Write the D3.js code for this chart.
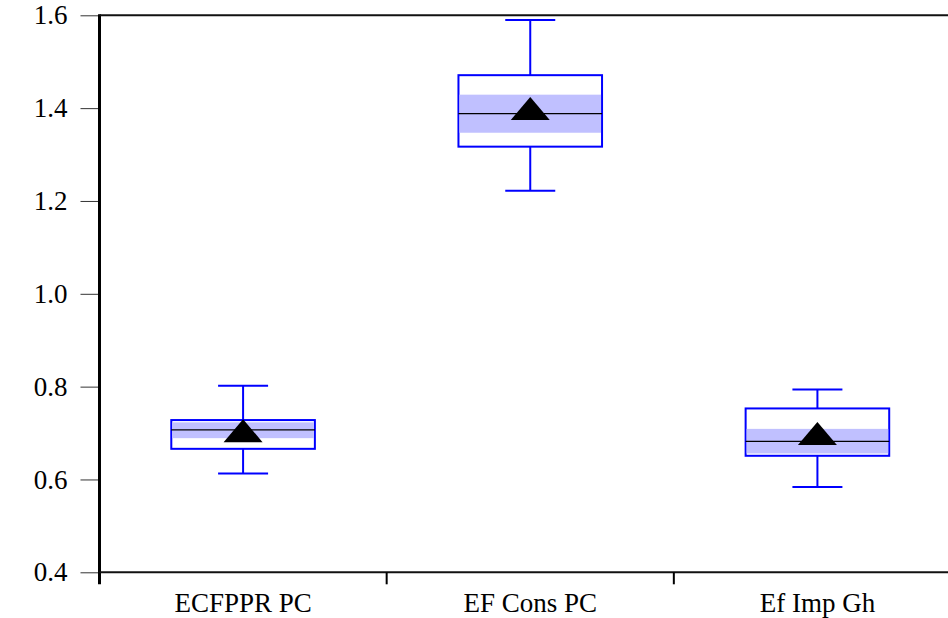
<!DOCTYPE html>
<html>
<head>
<meta charset="utf-8">
<script src="https://cdn.jsdelivr.net/npm/d3@7"></script>
<style>
  html,body{margin:0;padding:0;background:#fff;}
  svg{display:block;}
</style>
</head>
<body>
<svg id="chart" width="948" height="618"></svg>
<script>
const categories=["ECFPPR PC","EF Cons PC","Ef Imp Gh"];
const whiskerLow=[0.613,1.222,0.584];
const q1=[0.666,1.317,0.651];
const median=[0.707,1.388,0.682];
const q3=[0.728,1.471,0.753];
const whiskerHigh=[0.802,1.590,0.794];
const ciLow=[0.689,1.347,0.656];
const ciHigh=[0.723,1.429,0.709];
const means=[0.705,1.399,0.699];
const yTicks=[0.4,0.6,0.8,1.0,1.2,1.4,1.6];

const boxes=categories.map((c,i)=>({cat:c,lo:whiskerLow[i],q1:q1[i],med:median[i],q3:q3[i],hi:whiskerHigh[i],ciLo:ciLow[i],ciHi:ciHigh[i],mean:means[i]}));

const font="'Liberation Serif', 'Times New Roman', serif";
const svg=d3.select("#chart");
const mLeft=99.5,mRight=961,mTop=15.3,mBottom=572.3;

const x=d3.scaleBand().domain(categories).range([mLeft,mRight]).padding(0);
const y=d3.scaleLinear().domain([0.4,1.6]).range([mBottom,mTop]);

// left axis ticks + labels
const yAxis=svg.append("g")
  .attr("transform",`translate(${mLeft},0)`)
  .call(d3.axisLeft(y).tickValues(yTicks).tickFormat(d3.format(".1f")).tickSize(19).tickPadding(13));
yAxis.attr("font-family",null).attr("font-size",null);
yAxis.select(".domain").remove();
yAxis.selectAll(".tick line").attr("stroke","#333").attr("stroke-width",1);
yAxis.selectAll(".tick text").style("font-family",font).style("font-size","27px").attr("fill","#000");

// frame lines
svg.append("line").attr("x1",mLeft).attr("x2",mLeft).attr("y1",mTop-1).attr("y2",mBottom+12)
  .attr("stroke","#000").attr("stroke-width",3);
svg.append("line").attr("x1",mLeft).attr("x2",mRight).attr("y1",mTop).attr("y2",mTop)
  .attr("stroke","#111").attr("stroke-width",2);
svg.append("line").attr("x1",mLeft).attr("x2",mRight).attr("y1",mBottom).attr("y2",mBottom)
  .attr("stroke","#111").attr("stroke-width",2);

// bottom ticks at band edges
const edges=categories.map(c=>x(c)).concat([mRight]);
svg.append("g").selectAll("line").data(edges.slice(1)).join("line")
  .attr("x1",d=>d).attr("x2",d=>d).attr("y1",mBottom).attr("y2",mBottom+12)
  .attr("stroke","#000").attr("stroke-width",2);

svg.append("g").selectAll("text").data(categories).join("text")
  .attr("x",d=>x(d)+x.bandwidth()/2).attr("y",612)
  .attr("text-anchor","middle").attr("fill","#000")
  .style("font-family",font).style("font-size","27px")
  .text(d=>d);

// boxes
const bw=x.bandwidth()*0.5, capW=50;
const g=svg.append("g").selectAll("g").data(boxes).join("g")
  .attr("transform",d=>`translate(${x(d.cat)+x.bandwidth()/2},0)`);

g.append("line").attr("x1",0).attr("x2",0).attr("y1",d=>y(d.hi)).attr("y2",d=>y(d.q3))
  .attr("stroke","#0000ff").attr("stroke-width",2);
g.append("line").attr("x1",0).attr("x2",0).attr("y1",d=>y(d.q1)).attr("y2",d=>y(d.lo))
  .attr("stroke","#0000ff").attr("stroke-width",2);
g.append("line").attr("x1",-capW/2).attr("x2",capW/2).attr("y1",d=>y(d.hi)).attr("y2",d=>y(d.hi))
  .attr("stroke","#0000ff").attr("stroke-width",2);
g.append("line").attr("x1",-capW/2).attr("x2",capW/2).attr("y1",d=>y(d.lo)).attr("y2",d=>y(d.lo))
  .attr("stroke","#0000ff").attr("stroke-width",2);

g.append("rect").attr("x",-bw/2).attr("width",bw)
  .attr("y",d=>y(d.q3)).attr("height",d=>y(d.q1)-y(d.q3))
  .attr("fill","#fff").attr("stroke","#0000ff").attr("stroke-width",2);
g.append("rect").attr("x",-bw/2+1).attr("width",bw-2)
  .attr("y",d=>y(d.ciHi)).attr("height",d=>y(d.ciLo)-y(d.ciHi))
  .attr("fill","#c0c0ff");
g.append("line").attr("x1",-bw/2).attr("x2",bw/2).attr("y1",d=>y(d.med)).attr("y2",d=>y(d.med))
  .attr("stroke","#000").attr("stroke-width",1.2);

// mean triangles
const tw=39,th=23;
g.append("path")
  .attr("d",d=>{const c=y(d.mean);return `M0,${c-th/2}L${tw/2},${c+th/2}L${-tw/2},${c+th/2}Z`;})
  .attr("fill","#000");
</script>
</body>
</html>
